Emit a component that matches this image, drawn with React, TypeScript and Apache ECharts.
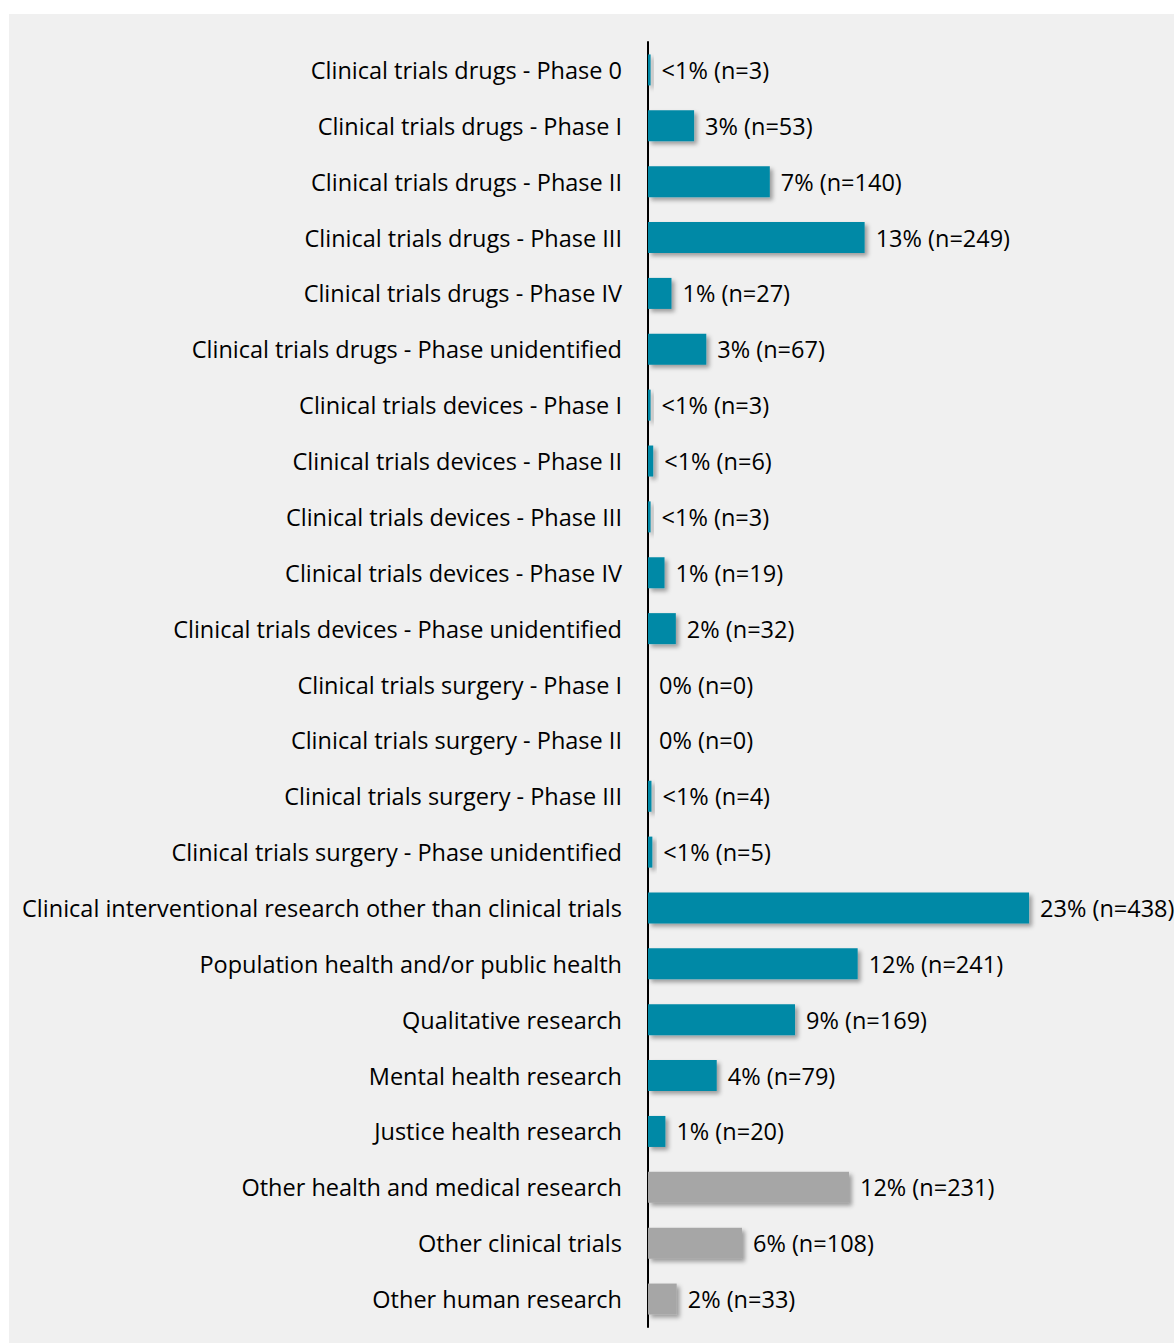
import React, { useEffect, useRef } from "react";
import * as echarts from "echarts";

const categories = [
  "Clinical trials drugs - Phase 0",
  "Clinical trials drugs - Phase I",
  "Clinical trials drugs - Phase II",
  "Clinical trials drugs - Phase III",
  "Clinical trials drugs - Phase IV",
  "Clinical trials drugs - Phase unidentified",
  "Clinical trials devices - Phase I",
  "Clinical trials devices - Phase II",
  "Clinical trials devices - Phase III",
  "Clinical trials devices - Phase IV",
  "Clinical trials devices - Phase unidentified",
  "Clinical trials surgery - Phase I",
  "Clinical trials surgery - Phase II",
  "Clinical trials surgery - Phase III",
  "Clinical trials surgery - Phase unidentified",
  "Clinical interventional research other than clinical trials",
  "Population health and/or public health",
  "Qualitative research",
  "Mental health research",
  "Justice health research",
  "Other health and medical research",
  "Other clinical trials",
  "Other human research",
];

const counts = [3, 53, 140, 249, 27, 67, 3, 6, 3, 19, 32, 0, 0, 4, 5, 438, 241, 169, 79, 20, 231, 108, 33];

const percents = [
  "<1%", "3%", "7%", "13%", "1%", "3%", "<1%", "<1%", "<1%", "1%", "2%", "0%", "0%", "<1%", "<1%",
  "23%", "12%", "9%", "4%", "1%", "12%", "6%", "2%",
];

const groups = [
  "main", "main", "main", "main", "main", "main", "main", "main", "main", "main", "main", "main",
  "main", "main", "main", "main", "main", "main", "main", "main", "other", "other", "other",
];

const TEAL = "#0089a6";
const GRAY = "#a6a6a6";
const FONT = "Open Sans";
const FS = 23.5;

export default function App() {
  const ref = useRef<HTMLDivElement>(null);

  useEffect(() => {
    document.body.style.margin = "0";
    const chart = echarts.init(ref.current!, null, { renderer: "svg" });
    chart.setOption({
      animation: false,
      backgroundColor: "#ffffff",
      graphic: [
        {
          type: "rect",
          z: -10,
          shape: { x: 9, y: 14, width: 1165, height: 1329 },
          style: { fill: "#f0f0f0" },
        },
      ],
      grid: { left: 648, top: 42, width: 522, height: 1285, containLabel: false },
      xAxis: {
        type: "value",
        min: 0,
        max: 600,
        show: false,
      },
      yAxis: {
        type: "category",
        data: categories,
        inverse: true,
        axisLine: { show: true, lineStyle: { color: "#000000", width: 2 } },
        axisTick: { show: false },
        axisLabel: {
          margin: 26,
          color: "#000000",
          fontFamily: FONT,
          fontSize: FS,
        },
        splitLine: { show: false },
      },
      series: [
        {
          type: "bar",
          barWidth: 31,
          data: counts.map((v, i) => ({
            value: v,
            itemStyle: { color: groups[i] === "other" ? GRAY : TEAL },
          })),
          itemStyle: {
            shadowColor: "rgba(0,0,0,0.35)",
            shadowBlur: 4,
            shadowOffsetX: 3,
            shadowOffsetY: 3,
          },
          label: {
            show: true,
            position: "right",
            distance: 11,
            color: "#000000",
            fontFamily: FONT,
            fontSize: FS,
            formatter: (p: any) => `${percents[p.dataIndex]} (n=${counts[p.dataIndex]})`,
          },
        },
      ],
    });
    return () => chart.dispose();
  }, []);

  return <div ref={ref} style={{ width: 1174, height: 1343 }} />;
}
